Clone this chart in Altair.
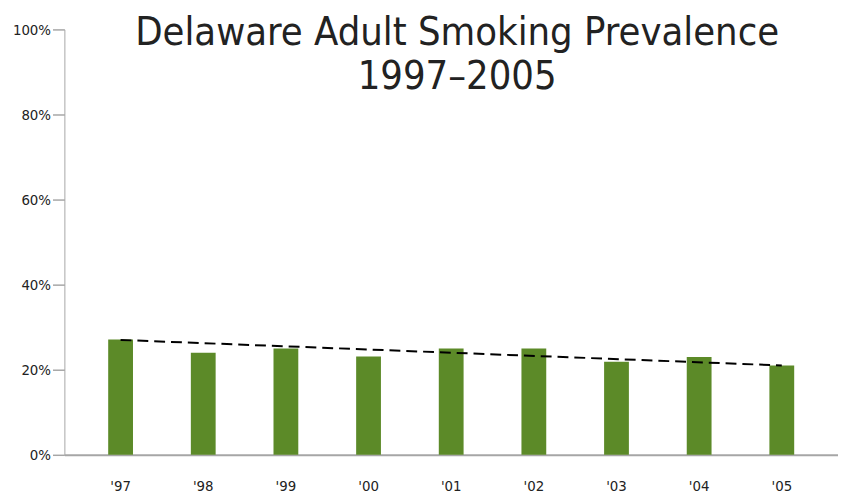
import altair as alt
import pandas as pd

years = ["'97", "'98", "'99", "'00", "'01", "'02", "'03", "'04", "'05"]
prevalence = [27.1, 24.0, 25.0, 23.1, 25.0, 25.0, 21.9, 23.0, 21.0]
trend_years = ["'97", "'05"]
trend_values = [27.0, 21.0]
title_lines = ["Delaware Adult Smoking Prevalence", "1997\u20132005"]

df = pd.DataFrame({"Year": years, "Pct": prevalence})
tr = pd.DataFrame({"Year": trend_years, "Pct": trend_values})
FONT = "DejaVu Sans Condensed, Liberation Sans Narrow, Roboto, sans-serif"

x = alt.X("Year:N", sort=years, title=None,
          scale=alt.Scale(paddingInner=0.7, paddingOuter=0.53),
          axis=alt.Axis(labelAngle=0, labelPadding=24, ticks=False, domainColor="#a6a6a6",
                        domainWidth=2, labelFont=FONT, labelFontSize=15, labelColor="#222"))
y = alt.Y("Pct:Q", title=None, scale=alt.Scale(domain=[0, 100]),
          axis=alt.Axis(values=[0, 20, 40, 60, 80, 100], labelExpr="datum.value + '%'",
                        grid=False, domainColor="#a6a6a6", tickColor="#a6a6a6", tickSize=12,
                        tickWidth=1.5, labelFont=FONT, labelFontSize=15, labelColor="#222",
                        labelPadding=2))

bars = alt.Chart(df).mark_bar(color="#5c8a28").encode(x=x, y=y)

trend = alt.Chart(tr).mark_line(color="black", strokeDash=[11, 6], strokeWidth=2).encode(
    x=alt.X("Year:N", sort=years), y="Pct:Q")

titles = [
    alt.Chart(pd.DataFrame({"line": [t]})).mark_text(
        font=FONT, fontSize=40, color="#222", baseline="top").encode(
        text="line:N", x=alt.value(397), y=alt.value(i * 44 - 16))
    for i, t in enumerate(title_lines)
]

chart = alt.layer(bars, trend, *titles).properties(
    width=782, height=430, autosize="none",
    padding={"left": 57, "top": 19, "right": 0, "bottom": 40}
).configure_view(stroke=None)

chart.save("out.html", embed_options={"renderer": "svg", "actions": False})
